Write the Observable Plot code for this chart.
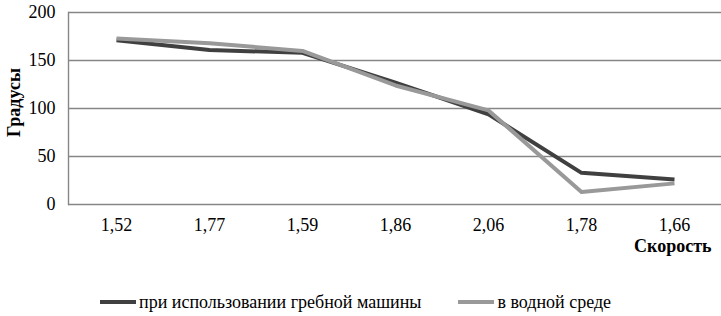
<!DOCTYPE html>
<html><head><meta charset="utf-8">
<script src="https://cdn.jsdelivr.net/npm/d3@7"></script>
<script src="https://cdn.jsdelivr.net/npm/@observablehq/plot@0.6"></script>
<style>
body{margin:0;background:#fff;font-family:'Liberation Serif',serif;}
#chart svg{display:block;font-family:'Liberation Serif',serif !important;}
#chart svg text{font-family:'Liberation Serif',serif !important;}
#legend{height:46px;width:721px;font-size:18px;color:#000;position:relative;font-family:'Liberation Serif',serif;}
#legend .items{position:absolute;left:100px;top:21px;display:flex;align-items:center;height:22px;}
#legend .item{display:flex;align-items:center;margin-right:37px;}
#legend .sw{width:36px;height:4px;margin-right:3px;}
</style></head><body>
<div id="chart"></div>
<div id="legend"><div class="items"></div></div>
<script>
const categories = ["1,52","1,77","1,59","1,86","2,06","1,78","1,66"];
const seriesNames = ["при использовании гребной машины","в водной среде"];
const propeller = [171,161,158,127,94,33,26];
const water = [173,168,160,124,98,13,22];
const yTicks = [0,50,100,150,200];
const colors = ["#404040","#999999"];
const xLabel = "Скорость";
const yLabel = "Градусы";

const rows = [];
[propeller, water].forEach((vals, s) => vals.forEach((v, i) => rows.push({cat: categories[i], value: v, series: seriesNames[s]})));

const chart = Plot.plot({
  width: 721, height: 270,
  marginLeft: 68, marginRight: 0, marginTop: 12, marginBottom: 66,
  style: {fontFamily: "'Liberation Serif', serif", fontSize: "18px", color: "#000", background: "#fff"},
  x: {type: "point", domain: categories, padding: 0.5, label: null},
  y: {domain: [0, 200], ticks: yTicks, label: null},
  color: {domain: seriesNames, range: colors},
  marks: [
    Plot.ruleY(yTicks, {stroke: "#868686", strokeWidth: 1.4, strokeOpacity: 1}),
    Plot.frame({anchor: "left", stroke: "#868686", strokeWidth: 1.4, strokeOpacity: 1}),
    Plot.axisX({tickSize: 0, tickPadding: 14, fontSize: 18, label: null}),
    Plot.axisY({ticks: yTicks, tickSize: 0, tickPadding: 13, fontSize: 18, label: null}),
    Plot.line(rows, {x: "cat", y: "value", z: "series", stroke: "series", strokeWidth: 4, strokeLinejoin: "round", strokeLinecap: "butt"}),
    Plot.text([xLabel], {frameAnchor: "bottom-right", dx: -10, dy: 47, textAnchor: "end", fontWeight: "bold", fontSize: 18}),
    Plot.text([yLabel], {frameAnchor: "left", textAnchor: "middle", dx: -54, dy: -6, rotate: -90, fontWeight: "bold", fontSize: 18})
  ]
});
document.getElementById("chart").appendChild(chart);

const items = document.querySelector("#legend .items");
seriesNames.forEach((n, i) => {
  const it = document.createElement("div"); it.className = "item";
  const sw = document.createElement("div"); sw.className = "sw"; sw.style.background = colors[i];
  const t = document.createElement("span"); t.textContent = n;
  it.appendChild(sw); it.appendChild(t); items.appendChild(it);
});
</script>
</body></html>
